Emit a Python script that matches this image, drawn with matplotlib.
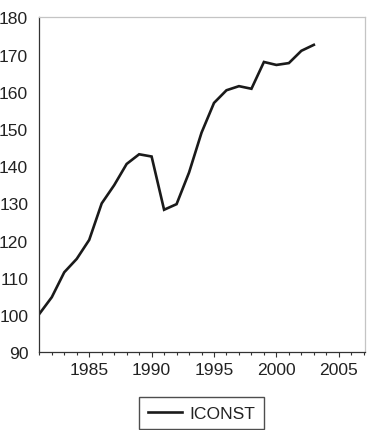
import matplotlib
matplotlib.use("Agg")
import matplotlib.pyplot as plt
from matplotlib.ticker import MultipleLocator

years = list(range(1981, 2004))
iconst = [100.3, 104.8, 111.5, 115.1, 120.2, 130.0, 134.9, 140.6, 143.2, 142.6,
          128.3, 129.8, 138.3, 149.0, 157.0, 160.4, 161.5, 160.8, 168.0, 167.2,
          167.7, 171.0, 172.6]
series_label = "ICONST"
xticks = [1985, 1990, 1995, 2000, 2005]
yticks = [90, 100, 110, 120, 130, 140, 150, 160, 170, 180]

plt.rcParams['font.family'] = ['Liberation Sans', 'DejaVu Sans']

fig = plt.figure(figsize=(3.68, 4.31), dpi=100)
ax = fig.add_axes([39.3/368, 1-353.3/431, (365-39.3)/368, (353.3-18.3)/431])

ax.plot(years, iconst, color='#1a1a1a', lw=1.9, label=series_label, solid_joinstyle='miter')

ax.set_xlim(1981, 2007.1)
ax.set_ylim(90, 180)
ax.set_xticks(xticks)
ax.set_yticks(yticks)
ax.xaxis.set_minor_locator(MultipleLocator(1))
ax.tick_params(axis='x', which='major', length=3.6, width=0.8, direction='out',
               pad=3.4, labelsize=12.6, colors='#333333', labelcolor='#222222')
ax.tick_params(axis='x', which='minor', length=2.0, width=0.8, direction='out',
               colors='#333333')
ax.tick_params(axis='y', length=0, pad=8, labelsize=12.6, labelcolor='#222222')

for s in ['left', 'bottom']:
    ax.spines[s].set_color('#333333')
    ax.spines[s].set_linewidth(0.9)
for s in ['top', 'right']:
    ax.spines[s].set_color('#c4c4c4')
    ax.spines[s].set_linewidth(0.9)

leg = fig.legend(loc='center', bbox_to_anchor=(201.5/368, 1-414/431),
                 fontsize=12.6, frameon=True, fancybox=False,
                 handlelength=1.95, handletextpad=0.4, borderpad=0.5,
                 borderaxespad=0)
leg.get_frame().set_edgecolor('#222222')
leg.get_frame().set_linewidth(1.0)
for t in leg.get_texts():
    t.set_color('#222222')

fig.savefig('out.png', dpi=100)
